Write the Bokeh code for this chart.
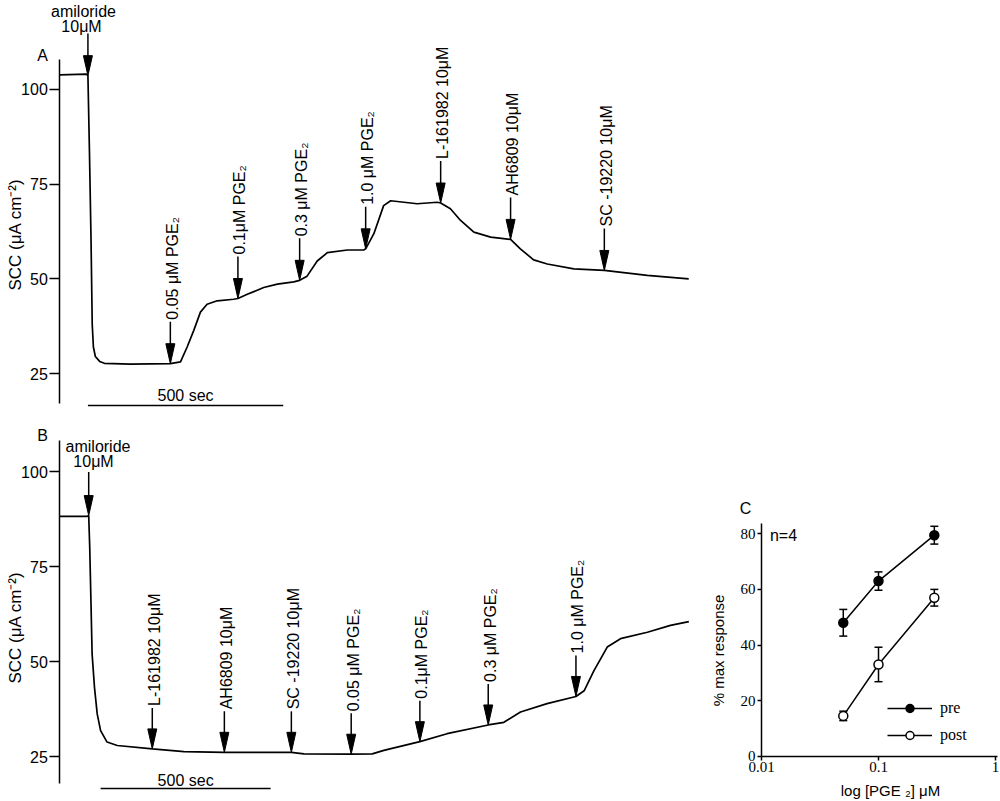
import numpy as np
from math import pi
from bokeh.plotting import figure
from bokeh.models import (ColumnDataSource, Range1d, FixedTicker, Whisker,
                          TeeHead, Legend, LegendItem, CustomJSTickFormatter)
from bokeh.layouts import column, row
from bokeh.embed import file_html
from bokeh.resources import INLINE
from bokeh.core.properties import value

SANS = "Liberation Sans"
SERIF = "Liberation Serif"
FS = "16px"

# ---------------- data: panel A (time in s, SCC in uA/cm2) ----------------
a_time = [0, 68, 72, 76, 80, 83, 86, 91, 102, 114,
          181, 283, 309, 326, 343, 360, 377, 403, 445, 456,
          480, 522, 557, 599, 614, 633, 659, 685, 736, 778,
          783, 804, 829, 847, 881, 915, 966, 975, 1000, 1026,
          1060, 1103, 1154, 1179, 1213, 1248, 1316, 1394, 1504, 1610]
a_scc = [103.8, 104.0, 103.6, 83, 60, 38, 32, 29.5, 28.2, 27.7,
         27.5, 27.6, 28.1, 32.0, 36.4, 41.2, 43.3, 44.2, 44.6, 44.8,
         45.9, 47.7, 48.6, 49.2, 49.6, 50.7, 54.7, 56.9, 57.6, 57.6,
         57.9, 61.9, 69.3, 70.6, 70.2, 69.8, 70.2, 70.0, 68.5, 65.4,
         62.3, 61.0, 60.4, 57.9, 55.0, 53.9, 52.6, 52.2, 50.9, 50.0]
a_amiloride_time = 72
a_event_time = [283, 456, 614, 783, 975, 1154, 1394]
a_event_label = ["0.05 μM PGE₂", "0.1μM PGE₂", "0.3 μM PGE₂", "1.0 μM PGE₂",
                 "L-161982 10μM", "AH6809 10μM", "SC -19220 10μM"]

# ---------------- data: panel B ----------------
b_time = [0, 81, 85, 88, 92, 95, 102, 110, 120, 139,
          169, 272, 365, 484, 681, 718, 857, 919, 953, 1059,
          1139, 1260, 1306, 1355, 1433, 1518, 1542, 1571, 1610, 1649,
          1728, 1796, 1850]
b_scc = [88.2, 88.2, 88.4, 80.1, 64.3, 52.0, 43.2, 36.2, 31.8, 28.8,
         27.9, 27.0, 26.3, 26.1, 26.1, 25.7, 25.6, 25.7, 26.6, 28.9,
         31.0, 33.3, 34.0, 36.7, 38.9, 40.8, 42.3, 47.6, 53.8, 56.0,
         57.7, 59.5, 60.5]
b_amiloride_time = 85
b_event_time = [272, 484, 681, 857, 1059, 1260, 1518]
b_event_label = ["L-161982 10μM", "AH6809 10μM", "SC -19220 10μM",
                 "0.05 μM PGE₂", "0.1μM PGE₂", "0.3 μM PGE₂", "1.0 μM PGE₂"]

scale_bar_s = 500
scc_ticks = [25, 50, 75, 100]

# ---------------- data: panel C ----------------
c_conc = [0.05, 0.1, 0.3]
c_pre = [48.0, 63.0, 79.5]
c_pre_err = [4.8, 3.3, 3.2]
c_post = [14.5, 33.0, 57.0]
c_post_err = [1.7, 6.2, 3.0]
c_xticks = [0.01, 0.1, 1]
c_yticks = [0, 20, 40, 60, 80]


class Geom:
    """Maps page pixels to data units for one trace panel."""
    def __init__(self, x0, spx, ref_py, ref_v, pxu):
        self.x0, self.spx, self.ref_py, self.ref_v, self.pxu = x0, spx, ref_py, ref_v, pxu

    def X(self, px):
        return (px - self.x0) * self.spx

    def Y(self, py):
        return self.ref_v + (self.ref_py - py) / self.pxu

    def dy(self, dpx):
        return dpx / self.pxu

    def dx(self, dpx):
        return dpx * self.spx


def style_axis(ax, tick_out, font, size):
    ax.major_tick_out = tick_out
    ax.major_tick_in = 0
    ax.minor_tick_out = 0
    ax.minor_tick_in = 0
    ax.axis_line_width = 1.5
    ax.major_tick_line_width = 1.5
    ax.axis_line_color = "black"
    ax.major_tick_line_color = "black"
    ax.major_label_text_font = font
    ax.major_label_text_font_size = size
    ax.major_label_text_color = "black"
    ax.major_label_standoff = 2


def texts(p, xs, ys, txt, size=FS, font=SANS, angle=0.0, align="center",
          baseline="middle"):
    p.text(x=xs, y=ys, text=txt, angle=angle, text_align=align,
           text_baseline=baseline, text_font=value(font),
           text_font_size=size, text_color="black")


def trace_panel(time, scc, ami_t, ev_t, ev_lab, g, width, page_left, page_top,
                page_bottom, axis_bounds_px, ami_text_px, ami_arrow_top_px,
                ev_len_px, bar_start, bar_py, bar_text_py, panel_letter,
                letter_px, ylab_px):
    height = page_bottom - page_top
    p = figure(width=width, height=height,
               x_range=Range1d(g.X(page_left), g.X(page_left + width)),
               y_range=Range1d(g.Y(page_bottom), g.Y(page_top)),
               x_axis_type=None, output_backend="svg", toolbar_location=None,
               min_border=0, outline_line_color=None,
               background_fill_color="white", border_fill_color="white")
    p.grid.grid_line_color = None
    ax = p.yaxis[0]
    ax.fixed_location = 0
    ax.ticker = FixedTicker(ticks=scc_ticks)
    ax.bounds = (g.Y(axis_bounds_px[0]), g.Y(axis_bounds_px[1]))
    style_axis(ax, 10, SANS, FS)

    # trace
    p.line(time, scc, line_width=1.7, line_color="black")

    # arrows
    all_t = [ami_t] + list(ev_t)
    tips = np.interp(all_t, time, scc)
    tops = [g.Y(ami_arrow_top_px)] + [v + g.dy(ev_len_px) for v in tips[1:]]
    head_len = g.dy(20)
    head_hw = g.dx(4.5)
    p.segment(x0=all_t, y0=tops, x1=all_t, y1=[v + head_len * 0.5 for v in tips],
              line_width=1.5, line_color="black")
    xs = [[t - head_hw, t, t + head_hw] for t in all_t]
    ys = [[v + head_len, v, v + head_len] for v in tips]
    p.patches(xs, ys, fill_color="black", line_color="black", line_width=1)

    # rotated labels
    texts(p, [t + g.dx(2) for t in ev_t], [v + g.dy(2) for v in tops[1:]],
          ev_lab, angle=pi / 2, align="left")

    # amiloride label
    (ax1, ay1), (ax2, ay2) = ami_text_px
    texts(p, [g.X(ax1), g.X(ax2)], [g.Y(ay1), g.Y(ay2)], ["amiloride", "10μM"])

    # scale bar
    p.segment(x0=[bar_start], y0=[g.Y(bar_py)], x1=[bar_start + scale_bar_s],
              y1=[g.Y(bar_py)], line_width=1.5, line_color="black")
    texts(p, [bar_start + scale_bar_s / 2], [g.Y(bar_text_py)],
          [f"{scale_bar_s} sec"])

    # panel letter and y-axis title
    texts(p, [g.X(letter_px[0])], [g.Y(letter_px[1])], [panel_letter])
    texts(p, [g.X(ylab_px[0])], [g.Y(ylab_px[1])], ["SCC (μA cm⁻²)"],
          size="17px", angle=pi / 2)
    return p


TOP_H = 415
TOTAL_H = 800
B_W = 705
TOTAL_W = 1000

gA = Geom(x0=59.3, spx=2.56, ref_py=278.3, ref_v=50, pxu=3.79)
pA = trace_panel(a_time, a_scc, a_amiloride_time, a_event_time, a_event_label, gA,
                 width=TOTAL_W, page_left=0, page_top=0, page_bottom=TOP_H,
                 axis_bounds_px=(403, 59),
                 ami_text_px=((83, 11), (81, 26)), ami_arrow_top_px=33,
                 ev_len_px=42, bar_start=72, bar_py=405, bar_text_py=395,
                 panel_letter="A", letter_px=(42, 55), ylab_px=(15, 234))

gB = Geom(x0=59.3, spx=2.941, ref_py=756, ref_v=25, pxu=3.8)
pB = trace_panel(b_time, b_scc, b_amiloride_time, b_event_time, b_event_label, gB,
                 width=B_W, page_left=0, page_top=TOP_H, page_bottom=TOTAL_H,
                 axis_bounds_px=(783, 440),
                 ami_text_px=((97.5, 446), (93, 461)), ami_arrow_top_px=471.5,
                 ev_len_px=41, bar_start=120, bar_py=788, bar_text_py=779.5,
                 panel_letter="B", letter_px=(42, 435), ylab_px=(15, 627))

# ---------------- panel C ----------------
C_X0, C_PXDEC = 761, 117.0      # page x of 0.01, px per decade
C_Y0, C_PXU = 755.7, 2.78       # page y of 0, px per % unit


def cX(px):
    return 10 ** (-2 + (px - C_X0) / C_PXDEC)


def cY(py):
    return (C_Y0 - py) / C_PXU


pC = figure(width=TOTAL_W - B_W, height=TOTAL_H - TOP_H, x_axis_type="log",
            x_range=Range1d(cX(B_W), cX(TOTAL_W)),
            y_range=Range1d(cY(TOTAL_H), cY(TOP_H)),
            output_backend="svg", toolbar_location=None,
            min_border=0, outline_line_color=None,
            background_fill_color="white", border_fill_color="white")
pC.grid.grid_line_color = None
xa, ya = pC.xaxis[0], pC.yaxis[0]
style_axis(xa, 4, SERIF, "15px")
style_axis(ya, 4, SERIF, "15px")
xa.fixed_location = 0
ya.fixed_location = 0.01
xa.ticker = FixedTicker(ticks=c_xticks)
xa.formatter = CustomJSTickFormatter(code="return tick.toString()")
xa.bounds = (0.01, cX(997))
ya.ticker = FixedTicker(ticks=c_yticks)
ya.bounds = (0, cY(523))

pre_src = ColumnDataSource(dict(x=c_conc, y=c_pre,
                                lo=[v - e for v, e in zip(c_pre, c_pre_err)],
                                hi=[v + e for v, e in zip(c_pre, c_pre_err)]))
post_src = ColumnDataSource(dict(x=c_conc, y=c_post,
                                 lo=[v - e for v, e in zip(c_post, c_post_err)],
                                 hi=[v + e for v, e in zip(c_post, c_post_err)]))
for s in (pre_src, post_src):
    pC.add_layout(Whisker(base="x", lower="lo", upper="hi", source=s,
                          line_width=1.5, line_color="black",
                          upper_head=TeeHead(size=8, line_width=1.5, line_color="black"),
                          lower_head=TeeHead(size=8, line_width=1.5, line_color="black")))
l_pre = pC.line("x", "y", source=pre_src, line_width=1.5, line_color="black")
m_pre = pC.scatter("x", "y", source=pre_src, marker="circle", size=9,
                   fill_color="black", line_color="black", line_width=1.5)
l_post = pC.line("x", "y", source=post_src, line_width=1.5, line_color="black")
m_post = pC.scatter("x", "y", source=post_src, marker="circle", size=9,
                    fill_color="white", line_color="black", line_width=1.5)

legend = Legend(items=[LegendItem(label="pre", renderers=[l_pre, m_pre]),
                       LegendItem(label="post", renderers=[l_post, m_post])],
                location=(887 - B_W, TOTAL_H - 745), glyph_width=45, glyph_height=20,
                label_height=20, spacing=7, padding=0, margin=0, label_standoff=8,
                border_line_color=None, background_fill_alpha=0,
                label_text_font=SERIF, label_text_font_size="16px",
                label_text_color="black")
pC.add_layout(legend)

texts(pC, [cX(745)], [cY(508)], ["C"])
texts(pC, [cX(783)], [cY(535)], ["n=4"])
texts(pC, [cX(718)], [cY(650)], ["% max response"], size="15px", angle=pi / 2)
texts(pC, [cX(890)], [cY(790)], ["log [PGE ₂] μM"], size="15px")

layout = column(pA, row(pB, pC))
open("out.html", "w").write(file_html(layout, INLINE))
